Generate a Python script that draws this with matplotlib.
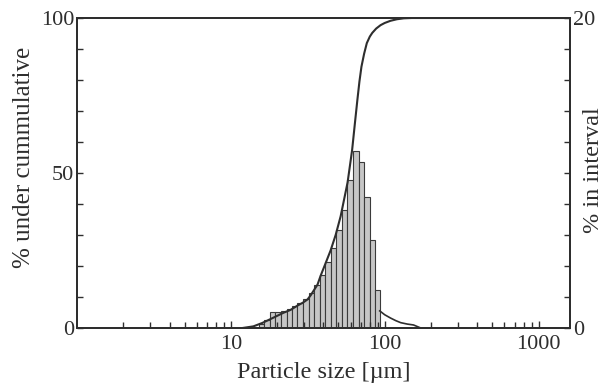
import numpy as np
import matplotlib
matplotlib.use("Agg")
import matplotlib.pyplot as plt
from matplotlib.ticker import LogLocator, NullFormatter, MultipleLocator

plt.rcParams["font.family"] = ["Liberation Serif", "DejaVu Serif"]

# histogram bins (particle size, um) and % in interval
bin_edges = [15.2, 16.5, 18.0, 19.5, 21.2, 23.0, 25.0, 27.1, 29.4, 32.0, 34.7,
             37.7, 41.0, 44.5, 48.3, 52.5, 57.0, 61.9, 67.7, 73.0, 79.9, 86.1, 92.8]
pct_interval = [0.26, 0.5, 1.05, 1.03, 1.1, 1.23, 1.42, 1.61, 1.87, 2.26, 2.77,
                3.42, 4.26, 5.16, 6.32, 7.61, 9.55, 11.4, 10.7, 8.45, 5.68, 2.45]

# tail of the frequency curve beyond the last bar
tail_size = [92.8, 94.2, 100, 109, 118, 127, 140, 154, 171]
tail_pct = [1.1, 1.05, 0.85, 0.64, 0.47, 0.34, 0.25, 0.19, 0.0]

# cumulative undersize curve
cum_size = [12, 14, 16, 18, 20, 22, 24.4, 27.1, 29.5, 31.5, 33, 36.6, 38.3, 41,
            44.5, 48, 51.7, 57.4, 61.4, 64, 66.4, 68.5, 70.6, 73.5, 76.5, 80, 83,
            88, 94, 100, 109, 120, 133, 150, 170, 1600]
cum_pct = [0, 0.5, 1.6, 2.8, 3.9, 4.9, 5.8, 7.2, 8.2, 9.2, 10.5, 14, 16.8, 20.5,
           25, 30, 36, 47, 57.4, 66, 73.5, 79.5, 84.3, 88.5, 91.9, 94, 95.2,
           96.6, 97.7, 98.4, 99.1, 99.6, 99.9, 100, 100, 100]

ink = "#2e2e2e"

fig = plt.figure(figsize=(6.06, 3.89), dpi=100)
ax = fig.add_axes([0.127, 0.157, 0.8136, 0.7967])
ax2 = ax.twinx()

edges = np.array(bin_edges)
ax2.bar(edges[:-1], pct_interval, width=np.diff(edges), align="edge",
        facecolor="#c6c6c6", edgecolor="#3a3a3a", linewidth=0.8)
ax2.plot(tail_size, tail_pct, color=ink, lw=1.2)

ax.plot(cum_size, cum_pct, color=ink, lw=1.5)
ax.set_zorder(ax2.get_zorder() + 1)
ax.patch.set_visible(False)

ax.set_xscale("log")
ax.set_xlim(1, 1600)
ax.set_ylim(0, 100)
ax2.set_ylim(0, 20)

ax.set_xticks([10, 100, 1000])
ax.set_xticklabels(["10", "100", "1000"])
ax.xaxis.set_minor_locator(LogLocator(base=10, subs=np.arange(2, 10)))
ax.xaxis.set_minor_formatter(NullFormatter())

ax.set_yticks([0, 50, 100])
ax.yaxis.set_minor_locator(MultipleLocator(10))
ax2.set_yticks([0, 20])
ax2.yaxis.set_minor_locator(MultipleLocator(2))

for a in (ax, ax2):
    a.tick_params(which="both", direction="in", length=4, width=1.0,
                  color=ink, labelcolor=ink, labelsize=16, pad=2)
    for s in a.spines.values():
        s.set_linewidth(1.4)
        s.set_color(ink)
ax.tick_params(axis="x", which="both", pad=5)
ax.tick_params(axis="x", which="major", length=5)
ax.tick_params(axis="y", right=False)

ax.set_xlabel("Particle size [µm]", fontsize=17.5, color=ink)
ax.xaxis.set_label_coords(0.5, -0.11)
ax.set_ylabel("% under cummulative", fontsize=18, color=ink)
ax.yaxis.set_label_coords(-0.085, 0.55)
ax2.set_ylabel("% in interval", fontsize=17.5, color=ink)
ax2.yaxis.set_label_coords(1.027, 0.51)

fig.savefig("out.png", dpi=100)
